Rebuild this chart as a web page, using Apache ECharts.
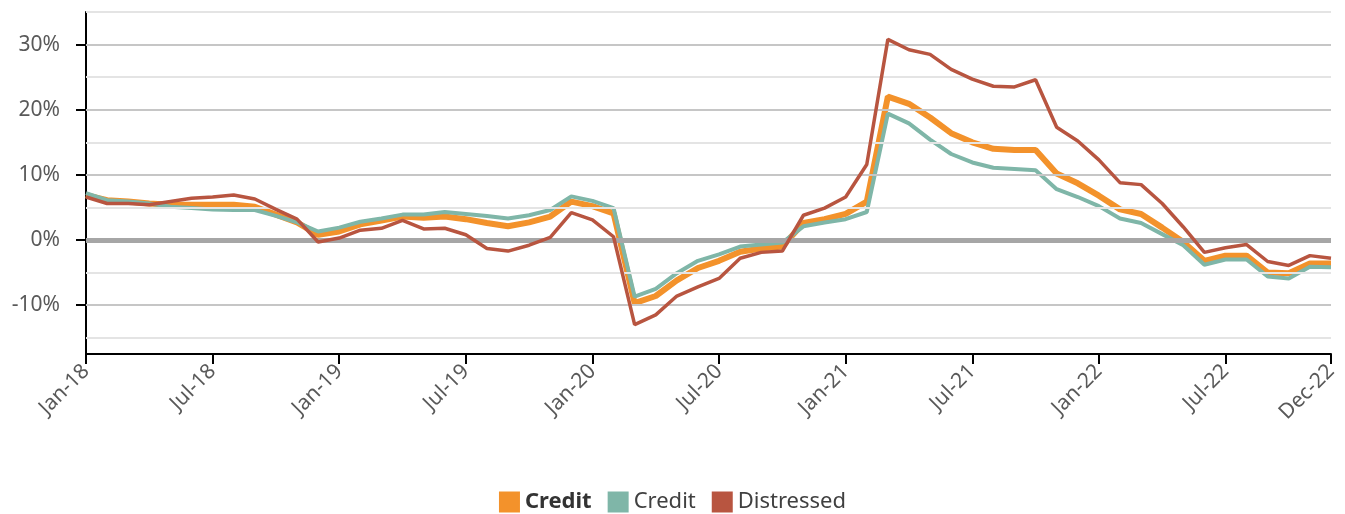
<!DOCTYPE html>
<html>
<head>
<meta charset="utf-8">
<script src="https://cdn.jsdelivr.net/npm/echarts@6/dist/echarts.min.js"></script>
<style>
  html, body { margin: 0; padding: 0; background: #fff; }
  #chart { width: 1345px; height: 514px; }
</style>
</head>
<body>
<div id="chart"></div>
<script>
const monthNames = ['Jan', 'Feb', 'Mar', 'Apr', 'May', 'Jun', 'Jul', 'Aug', 'Sep', 'Oct', 'Nov', 'Dec']
const years = ['18', '19', '20', '21', '22']
const categories = []
years.forEach((y) => monthNames.forEach((m) => categories.push(`${m}-${y}`)))

// monthly values, %
const creditBold = [
  6.9, 6.1, 5.9, 5.6, 5.4, 5.4, 5.4, 5.4, 5.1, 3.9, 2.7, 0.8,
  1.3, 2.4, 3.0, 3.6, 3.4, 3.6, 3.2, 2.6, 2.1, 2.7, 3.6, 5.9,
  5.2, 4.1, -9.7, -8.6, -6.2, -4.3, -3.2, -1.8, -1.3, -1.0, 2.6, 3.2,
  4.0, 5.9, 22.0, 20.9, 18.8, 16.4, 15.0, 14.0, 13.8, 13.8, 10.2, 8.7,
  6.8, 4.7, 4.0, 1.9, -0.3, -3.2, -2.4, -2.4, -5.0, -5.1, -3.6, -3.6,
]
const credit = [
  7.2, 6.1, 5.9, 5.6, 5.1, 4.9, 4.7, 4.6, 4.6, 3.7, 2.7, 1.3,
  1.9, 2.8, 3.3, 3.9, 3.9, 4.3, 4.0, 3.7, 3.3, 3.8, 4.6, 6.7,
  6.0, 4.9, -8.7, -7.5, -5.1, -3.2, -2.2, -1.0, -0.7, -0.4, 2.1, 2.7,
  3.2, 4.3, 19.4, 17.9, 15.4, 13.2, 11.9, 11.1, 10.9, 10.7, 7.8, 6.6,
  5.2, 3.3, 2.6, 0.9, -0.8, -3.8, -3.0, -3.0, -5.6, -5.9, -4.1, -4.2,
]
const distressed = [
  6.6, 5.6, 5.6, 5.4, 5.9, 6.4, 6.6, 6.9, 6.3, 4.7, 3.2, -0.3,
  0.3, 1.5, 1.8, 3.0, 1.7, 1.8, 0.8, -1.3, -1.7, -0.8, 0.4, 4.2,
  3.1, 0.5, -13.0, -11.5, -8.6, -7.2, -5.9, -2.8, -1.9, -1.7, 3.8, 4.9,
  6.6, 11.6, 30.8, 29.2, 28.5, 26.2, 24.7, 23.6, 23.5, 24.6, 17.3, 15.2,
  12.3, 8.8, 8.5, 5.6, 2.0, -1.9, -1.2, -0.7, -3.3, -3.9, -2.4, -2.8,
]

const yTicks = [-10, 0, 10, 20, 30]
const majorGrid = [-10, 10, 20, 30]
const minorGrid = [-15, -5, 5, 15, 25, 35]

const seriesNames = ['Credit (bold)', 'Credit', 'Distressed']

const chart = echarts.init(document.getElementById('chart'))
const font = 'Noto Sans'
const showIdx = (i) => i % 6 === 0 || i === categories.length - 1

const gridLines = [
  ...minorGrid.map((v) => ({ yAxis: v, lineStyle: { color: '#e4e4e4', width: 2, type: 'solid' } })),
  ...majorGrid.map((v) => ({ yAxis: v, lineStyle: { color: '#c6c6c6', width: 2, type: 'solid' } })),
  { yAxis: 0, lineStyle: { color: '#a6a6a6', width: 5, type: 'solid' } },
]

chart.setOption({
  animation: false,
  textStyle: { fontFamily: font },
  grid: { left: 86, right: 14, top: 12, bottom: 160 },
  legend: {
    data: seriesNames,
    top: 486,
    left: 'center',
    icon: 'rect',
    itemWidth: 21,
    itemHeight: 21,
    itemGap: 16,
    textStyle: {
      fontSize: 22,
      color: '#404040',
      fontFamily: font,
      rich: { b: { fontSize: 22, fontWeight: 'bold', color: '#333', fontFamily: font } },
    },
    formatter: (name) => (name === seriesNames[0] ? '{b|Credit}' : name),
  },
  xAxis: {
    type: 'category',
    data: categories,
    boundaryGap: false,
    axisLine: { onZero: false, lineStyle: { color: '#000', width: 2 } },
    axisTick: { show: true, inside: false, interval: (i) => showIdx(i), length: 10, lineStyle: { color: '#000', width: 2 } },
    axisLabel: {
      interval: (i) => showIdx(i),
      rotate: 45,
      margin: 14,
      fontSize: 21,
      color: '#595959',
      fontFamily: font,
    },
    splitLine: { show: false },
  },
  yAxis: {
    type: 'value',
    min: -17.5,
    max: 35,
    axisLine: { show: true, onZero: false, lineStyle: { color: '#000', width: 2 } },
    axisTick: { show: true, inside: false, customValues: yTicks, length: 10, lineStyle: { color: '#000', width: 2 } },
    axisLabel: {
      customValues: yTicks,
      formatter: (v) => `${v}%`,
      margin: 26,
      fontSize: 21,
      color: '#595959',
      fontFamily: font,
    },
    splitLine: { show: false },
  },
  series: [
    {
      name: 'grid',
      type: 'line',
      data: [],
      z: 1,
      silent: true,
      markLine: { symbol: 'none', silent: true, label: { show: false }, data: gridLines },
    },
    {
      name: seriesNames[0],
      type: 'line',
      data: creditBold,
      z: 3,
      symbol: 'none',
      color: '#f3922b',
      lineStyle: { width: 6, color: '#f3922b' },
    },
    {
      name: seriesNames[1],
      type: 'line',
      data: credit,
      z: 4,
      symbol: 'none',
      color: '#7fb6a8',
      lineStyle: { width: 4, color: '#7fb6a8' },
    },
    {
      name: seriesNames[2],
      type: 'line',
      data: distressed,
      z: 5,
      symbol: 'none',
      color: '#b85540',
      lineStyle: { width: 3.5, color: '#b85540' },
    },
  ],
})
</script>
</body>
</html>
